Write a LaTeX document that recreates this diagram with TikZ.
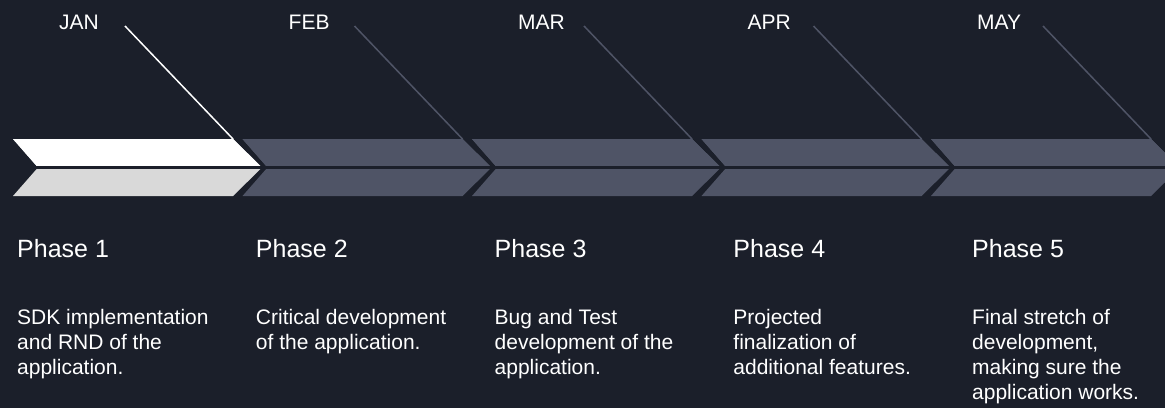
\documentclass[tikz,border=0pt]{standalone}
\usepackage{fontspec}
\setmainfont{Liberation Sans}
\definecolor{bgdark}{HTML}{1B1F2A}
\definecolor{segrey}{HTML}{4F5466}
\definecolor{lowgrey}{HTML}{D9D9D9}
\begin{document}
\begin{tikzpicture}[x=1pt, y=-1pt,
        monthlbl/.style={font=\fontsize{21}{25}\selectfont, text=white, anchor=base west, inner sep=0pt},
        phaselbl/.style={font=\fontsize{25}{30}\selectfont, text=white, anchor=base west, inner sep=0pt},
        desclbl/.style={font=\fontsize{21}{25}\selectfont, text=white, anchor=north west, inner sep=0pt, align=left},
        segsplit/.style={draw=bgdark, line width=3pt},
        pointer/.style={line width=1.5pt}
      ]
      \useasboundingbox (0,0) rectangle (1165,408);
      \fill[bgdark] (0,0) rectangle (1165,408);
      \clip (0,0) rectangle (1165,408);
      \def\pitch{229.5}
      \foreach \i/\mon/\upc/\lowc/\linec in {%
        0/JAN/white/lowgrey/white,
        1/FEB/segrey/segrey/segrey,
        2/MAR/segrey/segrey/segrey,
        3/APR/segrey/segrey/segrey,
        4/MAY/segrey/segrey/segrey%
      }{
        \pgfmathsetmacro\lx{13+\pitch*\i}
        \pgfmathsetmacro\rx{\lx+220}
        \fill[\lowc] (\lx,139) -- (\rx,139) -- (\rx+29,167.5) -- (\rx,196)
        -- (\lx,196) -- (\lx+25,167.5) -- cycle;
        \fill[\upc] (\lx,139) -- (\rx,139) -- (\rx+29,167.5) -- (\lx+25,167.5) -- cycle;
        \node[monthlbl] (m\i) at (59+\pitch*\i,29) {\mon};
        \coordinate (s\i) at (125+\pitch*\i,26);
        \coordinate (c\i) at (\rx,139);
        \draw[pointer, \linec] (s\i) -- (c\i);
      }
      \draw[segsplit] (0,167.5) -- (1165,167.5);
      \foreach \i/\txt in {%
        0/{SDK implementation\\and RND of the\\application.},
        1/{Critical development\\of the application.},
        2/{Bug and Test\\development of the\\application.},
        3/{Projected\\finalization of\\additional features.},
        4/{Final stretch of\\development,\\making sure the\\application works.}%
      }{
        \pgfmathtruncatemacro\n{\i+1}
        \node[phaselbl] (p\i) at (17+238.75*\i,257) {Phase \n};
        \node[desclbl] (d\i) at (17+238.75*\i,308.7) {\txt};
      }
    \end{tikzpicture}
\end{document}
